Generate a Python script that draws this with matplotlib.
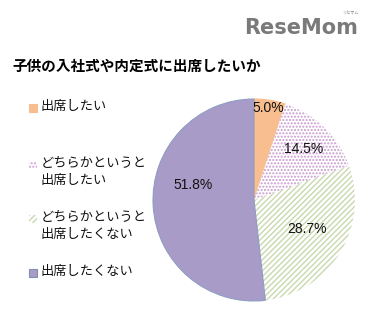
import numpy as np
import matplotlib.pyplot as plt
from matplotlib.patches import Rectangle

plt.rcParams['font.family'] = ['Noto Sans CJK JP', 'DejaVu Sans']
plt.rcParams['hatch.linewidth'] = 1.0

#~~~~~~Data~~~~~~
title = '子供の入社式や内定式に出席したいか'
labels = ['出席したい', 'どちらかというと\n出席したい', 'どちらかというと\n出席したくない', '出席したくない']
values = [5.0, 14.5, 28.7, 51.8]

#~~~~~~Styles~~~~~~
faces   = ['#F9BE8F', 'white', 'white', '#A99BC8']
hatches = [None, '.....', '//////', None]
hcolors = ['#F9BE8F', '#C99AD0', '#C9D8AE', '#7F8FB0']
lab_r   = [0.92, 0.70, 0.60, 0.62]
lab_off = [0, 0, 3, -17]   # degrees

W, H = 370, 335
fig = plt.figure(figsize=(W/100, H/100), dpi=100)

cx, cy, R = 254, 200, 103
ax = fig.add_axes([(cx-R)/W, (H-cy-R)/H, 2*R/W, 2*R/H])
wedges, _ = ax.pie(values, startangle=90, counterclock=False, radius=1)
for w, fc, h, hc in zip(wedges, faces, hatches, hcolors):
    w.set_facecolor(fc)
    if h:
        w.set_hatch(h)
        w.set_edgecolor(hc)
        w.set_linewidth(0)
    else:
        w.set_edgecolor('#8D9CC0' if fc == '#A99BC8' else fc)
        w.set_linewidth(0.8)
ax.set_xlim(-1.02, 1.02)
ax.set_ylim(-1.02, 1.02)
ax.set_aspect('equal')
ax.axis('off')

# percentage labels
for w, v, r, off in zip(wedges, values, lab_r, lab_off):
    a = np.deg2rad((w.theta1 + w.theta2) / 2 + off)
    ax.text(r*np.cos(a), r*np.sin(a), f'{v:.1f}%', ha='center', va='center',
            fontsize=10, color='#111111', family=['Liberation Sans', 'DejaVu Sans'])

# title and logo
fig.text(12/W, 1 - 66/H, title, fontsize=10.5, fontweight='bold', va='center', ha='left')
fig.text(358/W, 1 - 28/H, 'ReseMom', fontsize=15, fontweight='bold', color='#7a7a7a',
         va='center', ha='right', family=['DejaVu Sans'])
fig.text(350/W, 1 - 13/H, 'リセマム', fontsize=3, color='#888888', va='center', ha='center')

# legend (handle aligned to first text line)
leg_y = [108, 165, 219, 273]
for y, lab, fc, h, hc in zip(leg_y, labels, faces, hatches, hcolors):
    rect = Rectangle((29/W, 1 - (y+4)/H), 8/W, 8/H, transform=fig.transFigure,
                     facecolor=fc, edgecolor=hc if h else ('#7F8FB0' if fc == '#A99BC8' else fc),
                     hatch=h, linewidth=0 if h else 0.8)
    fig.add_artist(rect)
    fig.text(41/W, 1 - (y-8)/H, lab, fontsize=9.5, va='top', ha='left',
             linespacing=1.35, color='#111111')

fig.savefig('out.png', dpi=100)
